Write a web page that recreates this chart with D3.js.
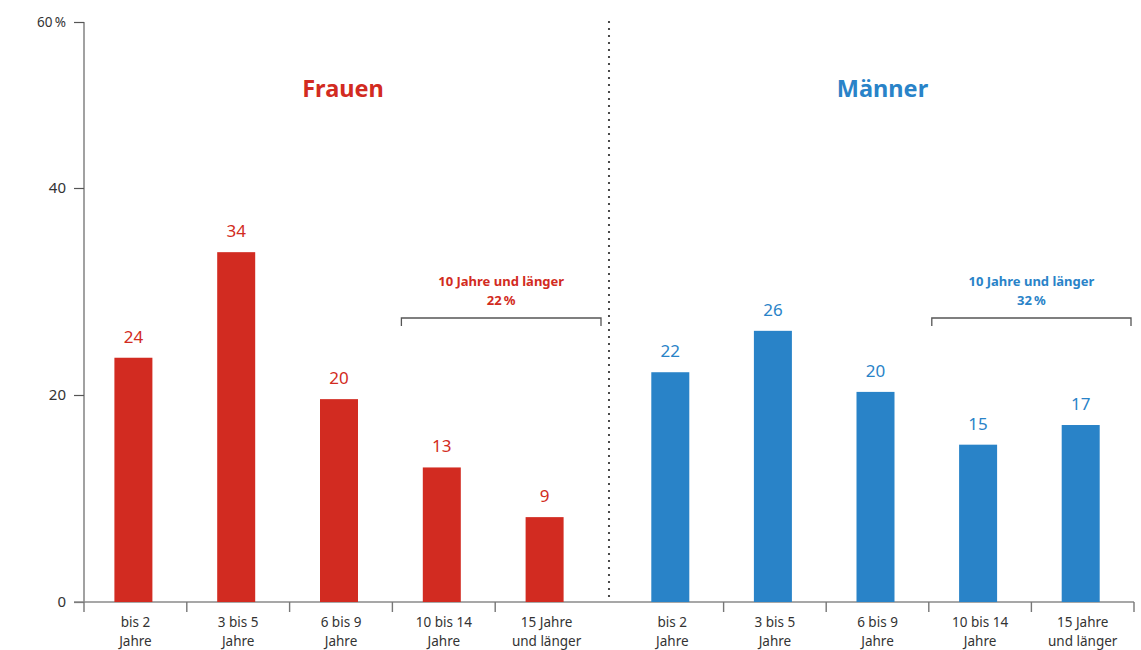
<!DOCTYPE html>
<html>
<head>
<meta charset="utf-8">
<script src="https://cdn.jsdelivr.net/npm/d3@7"></script>
<style>
  body { margin: 0; background: #fff; }
  svg { display: block; font-family: "Noto Sans", sans-serif; }
</style>
</head>
<body>
<div id="chart"></div>
<script>
// data
const categories = [["bis 2", "Jahre"], ["3 bis 5", "Jahre"], ["6 bis 9", "Jahre"], ["10 bis 14", "Jahre"], ["15 Jahre", "und länger"]];
const catKeys = categories.map(d => d.join(" "));
const frauenValues = [23.6, 33.8, 19.6, 13.0, 8.2];
const frauenLabels = ["24", "34", "20", "13", "9"];
const maennerValues = [22.2, 26.2, 20.3, 15.2, 17.1];
const maennerLabels = ["22", "26", "20", "15", "17"];
const yTicks = [0, 20, 40, 60];
const yTickLabels = ["0", "20", "40", "60\u2009%"];
const groups = [
  { name: "Frauen", values: frauenValues, labels: frauenLabels, color: "#d22b21", total: "22\u2009%" },
  { name: "Männer", values: maennerValues, labels: maennerLabels, color: "#2983c8", total: "32\u2009%" }
];

const width = 1141, height = 650;
const svg = d3.select("#chart").append("svg")
  .attr("width", width).attr("height", height);

// y axis is compressed above 40 in the original
const y = d3.scaleLinear().domain([0, 40, 60]).range([602, 188, 22]);

const ranges = [[84, 598], [621, 1134]];
const xs = ranges.map(r => d3.scaleBand().domain(catKeys).range(r).paddingInner(0).paddingOuter(0));

// y axis
const yAxis = svg.append("g")
  .attr("transform", "translate(84,0)")
  .call(d3.axisLeft(y).tickValues(yTicks).tickSize(10).tickPadding(8)
    .tickFormat((d, i) => yTickLabels[i]));
yAxis.attr("font-size", null).attr("font-family", null);
yAxis.select(".domain").attr("stroke", "#8a8a8a").attr("stroke-width", 1.6).attr("d", "M0,22V602");
yAxis.selectAll(".tick line").attr("stroke", "#555").attr("stroke-width", 1.2);
yAxis.selectAll(".tick text").attr("fill", "#333").style("font-size", "15px").attr("dy", "0.32em");
yAxis.selectAll(".tick text").filter(d => d === 60).style("font-size", "13.5px");

// baseline
svg.append("line")
  .attr("x1", 74).attr("x2", 1134).attr("y1", y(0)).attr("y2", y(0))
  .attr("stroke", "#8a8a8a").attr("stroke-width", 1.6);

// separator
svg.append("line")
  .attr("x1", 609).attr("x2", 609).attr("y1", 22).attr("y2", y(0))
  .attr("stroke", "#222").attr("stroke-width", 2.2)
  .attr("stroke-dasharray", "0,7").attr("stroke-linecap", "round");

groups.forEach((g, gi) => {
  const x = xs[gi];
  const bw = 38;
  const gx = svg.append("g");

  // category boundary ticks
  const bounds = catKeys.map(k => x(k));
  if (gi === 1) bounds.shift();
  bounds.push(x.range()[1]);
  if (gi === 0) bounds.pop();
  gx.selectAll(".bt").data(bounds).enter().append("line")
    .attr("x1", d => d).attr("x2", d => d)
    .attr("y1", y(0)).attr("y2", y(0) + 10)
    .attr("stroke", "#777").attr("stroke-width", 1.4);

  // category labels
  const lbl = gx.selectAll(".cl").data(categories).enter().append("text")
    .attr("text-anchor", "middle").attr("fill", "#333").style("font-size", "13.5px");
  lbl.append("tspan")
    .attr("x", (d, i) => x(catKeys[i]) + x.bandwidth() / 2).attr("y", 627)
    .text(d => d[0]);
  lbl.append("tspan")
    .attr("x", (d, i) => x(catKeys[i]) + x.bandwidth() / 2).attr("y", 646)
    .text(d => d[1]);

  // bars
  gx.selectAll(".bar").data(g.values).enter().append("rect")
    .attr("x", (d, i) => x(catKeys[i]) + x.bandwidth() / 2 - bw / 2 - 2)
    .attr("y", d => y(d))
    .attr("width", bw)
    .attr("height", d => y(0) - y(d))
    .attr("fill", g.color);

  gx.selectAll(".val").data(g.values).enter().append("text")
    .attr("x", (d, i) => x(catKeys[i]) + x.bandwidth() / 2 - 2)
    .attr("y", d => y(d) - 15)
    .attr("text-anchor", "middle").attr("fill", g.color)
    .style("font-size", "17px")
    .text((d, i) => g.labels[i]);

  // title
  gx.append("text")
    .attr("x", (x.range()[0] + x.range()[1]) / 2 + (gi === 0 ? 2 : 5)).attr("y", 97)
    .attr("text-anchor", "middle").attr("fill", g.color)
    .style("font-size", "23.5px").style("font-weight", "bold")
    .text(g.name);

  // bracket for 10 years and longer
  const bx0 = x(catKeys[3]) + (gi === 0 ? 9 : 3), bx1 = x.range()[1] + (gi === 0 ? 3 : -3);
  gx.append("path")
    .attr("d", `M${bx0},326V318H${bx1}V326`)
    .attr("fill", "none").attr("stroke", "#555").attr("stroke-width", 1.3);
  const bc = (bx0 + bx1) / 2;
  gx.append("text").attr("x", bc).attr("y", 286)
    .attr("text-anchor", "middle").attr("fill", g.color)
    .style("font-size", "13px").style("font-weight", "bold")
    .text("10 Jahre und länger");
  gx.append("text").attr("x", bc).attr("y", 305)
    .attr("text-anchor", "middle").attr("fill", g.color)
    .style("font-size", "13px").style("font-weight", "bold")
    .text(g.total);
});
</script>
</body>
</html>
